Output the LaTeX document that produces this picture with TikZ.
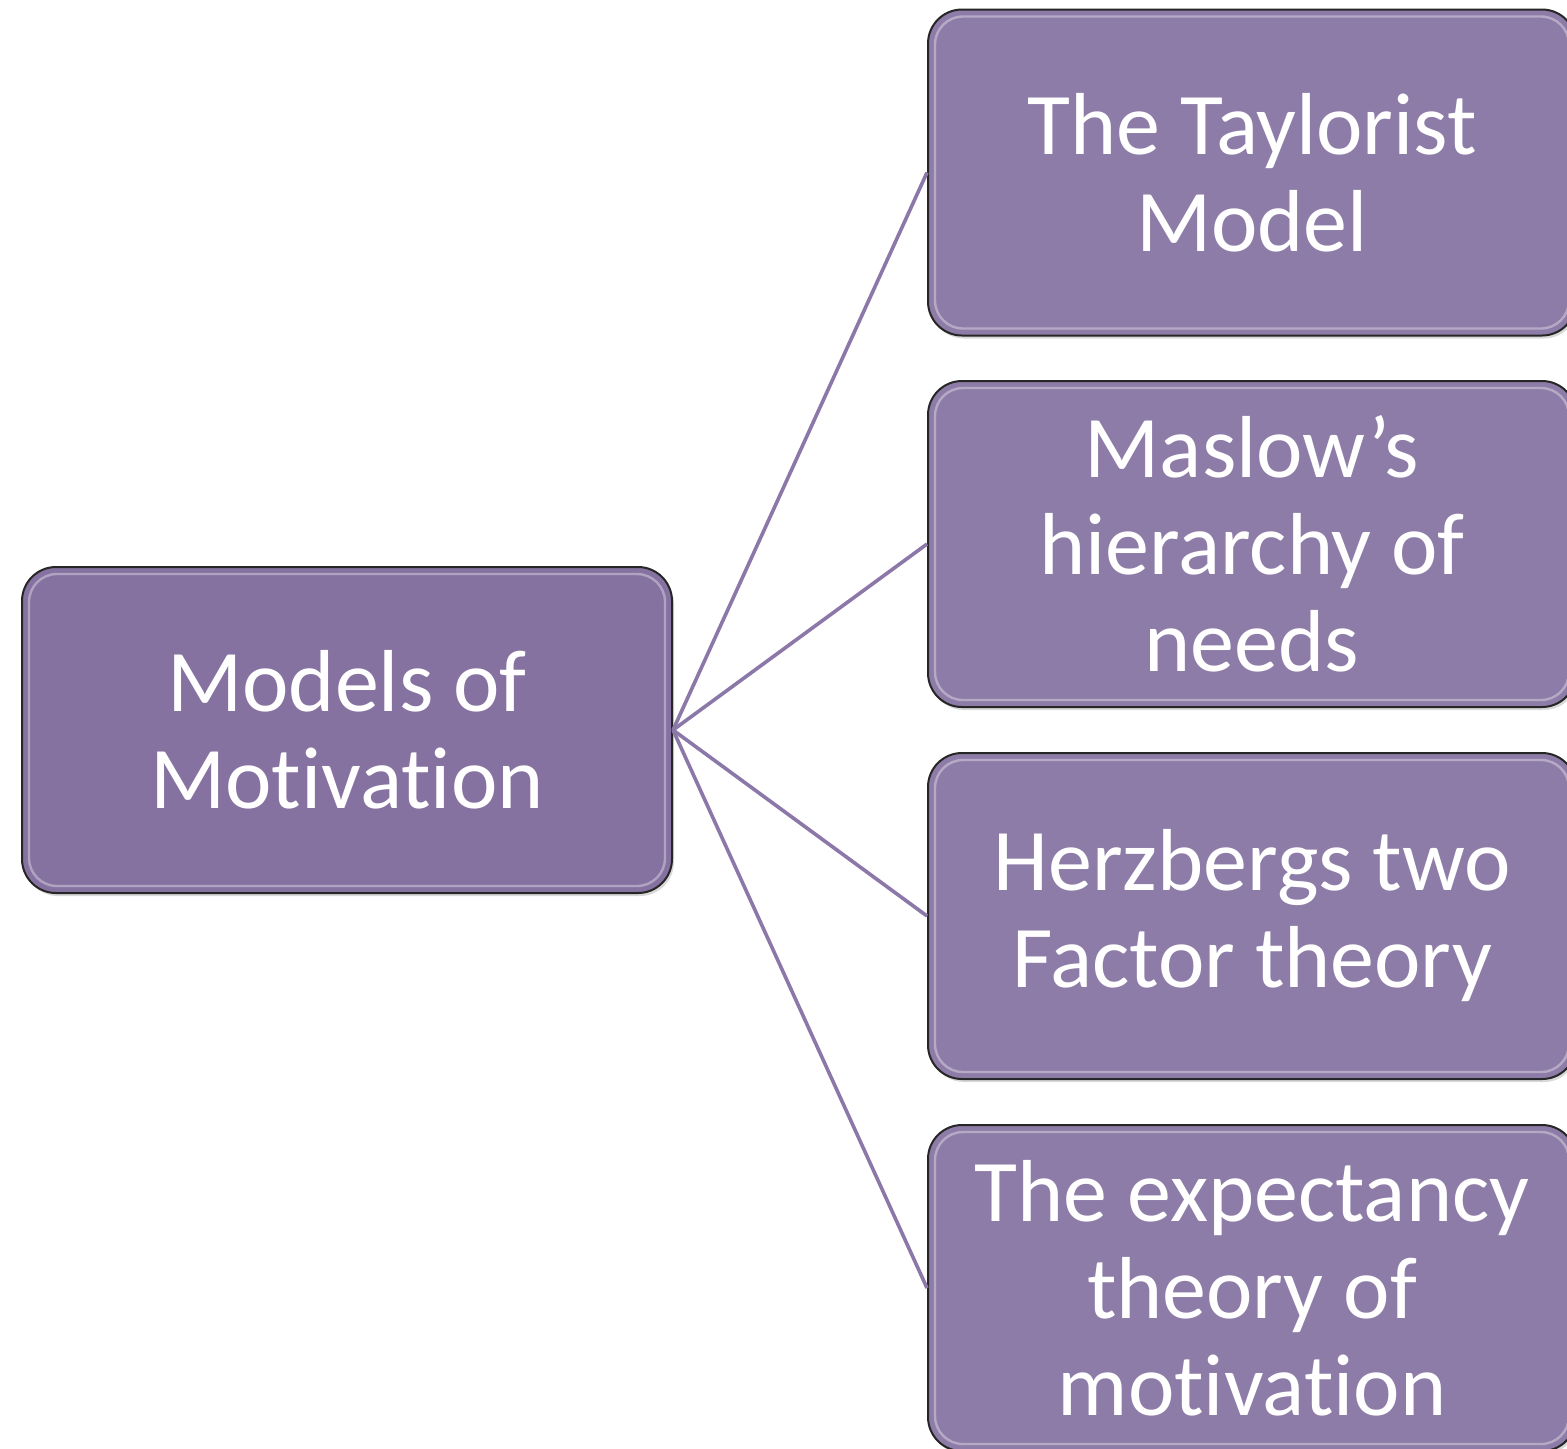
\documentclass[tikz,border=0pt]{standalone}
\usepackage{fontspec}
\setmainfont{Carlito}[Ligatures=NoCommon]
\usetikzlibrary{shadows}
\definecolor{boxL}{HTML}{8672A0}
\definecolor{boxR}{HTML}{8E7CA8}
\definecolor{linkc}{HTML}{8B78A8}
\tikzset{
  mbox/.style={draw=black!85, line width=1pt, rounded corners=17pt,
    minimum height=163pt, inner sep=0pt, text=white,
    font=\fontsize{44}{48.5}\selectfont, align=center,
    drop shadow={shadow xshift=1pt, shadow yshift=-1.5pt, opacity=0.3}},
  leftbox/.style={mbox, fill=boxL, minimum width=325pt},
  rightbox/.style={mbox, fill=boxR, minimum width=324pt},
  hilite/.style={draw=white, draw opacity=0.35, line width=1.2pt, rounded corners=14pt},
  linkline/.style={draw=linkc, line width=1.8pt}
}
\begin{document}
\begin{tikzpicture}[x=0.5pt,y=-0.5pt]
\useasboundingbox (0,0) rectangle (1567,1448);
\node[leftbox] (L) at (347,730) {Models of\\Motivation};
\node[rightbox] (R1) at (1252,172.5) {The Taylorist\\Model};
\node[rightbox] (R2) at (1252,544) {Maslow’s\\hierarchy of\\needs};
\node[rightbox] (R3) at (1252,916) {Herzbergs two\\Factor theory};
\node[rightbox] (R4) at (1252,1288) {The expectancy\\theory of\\motivation};
\foreach \n in {L,R1,R2,R3,R4}{
  \draw[hilite] ([shift={(4pt,-4pt)}]\n.north west) rectangle ([shift={(-4pt,4pt)}]\n.south east);
}
\foreach \n in {R1,R2,R3,R4}{
  \draw[linkline] (L.east) -- (\n.west);
}
\end{tikzpicture}
\end{document}
